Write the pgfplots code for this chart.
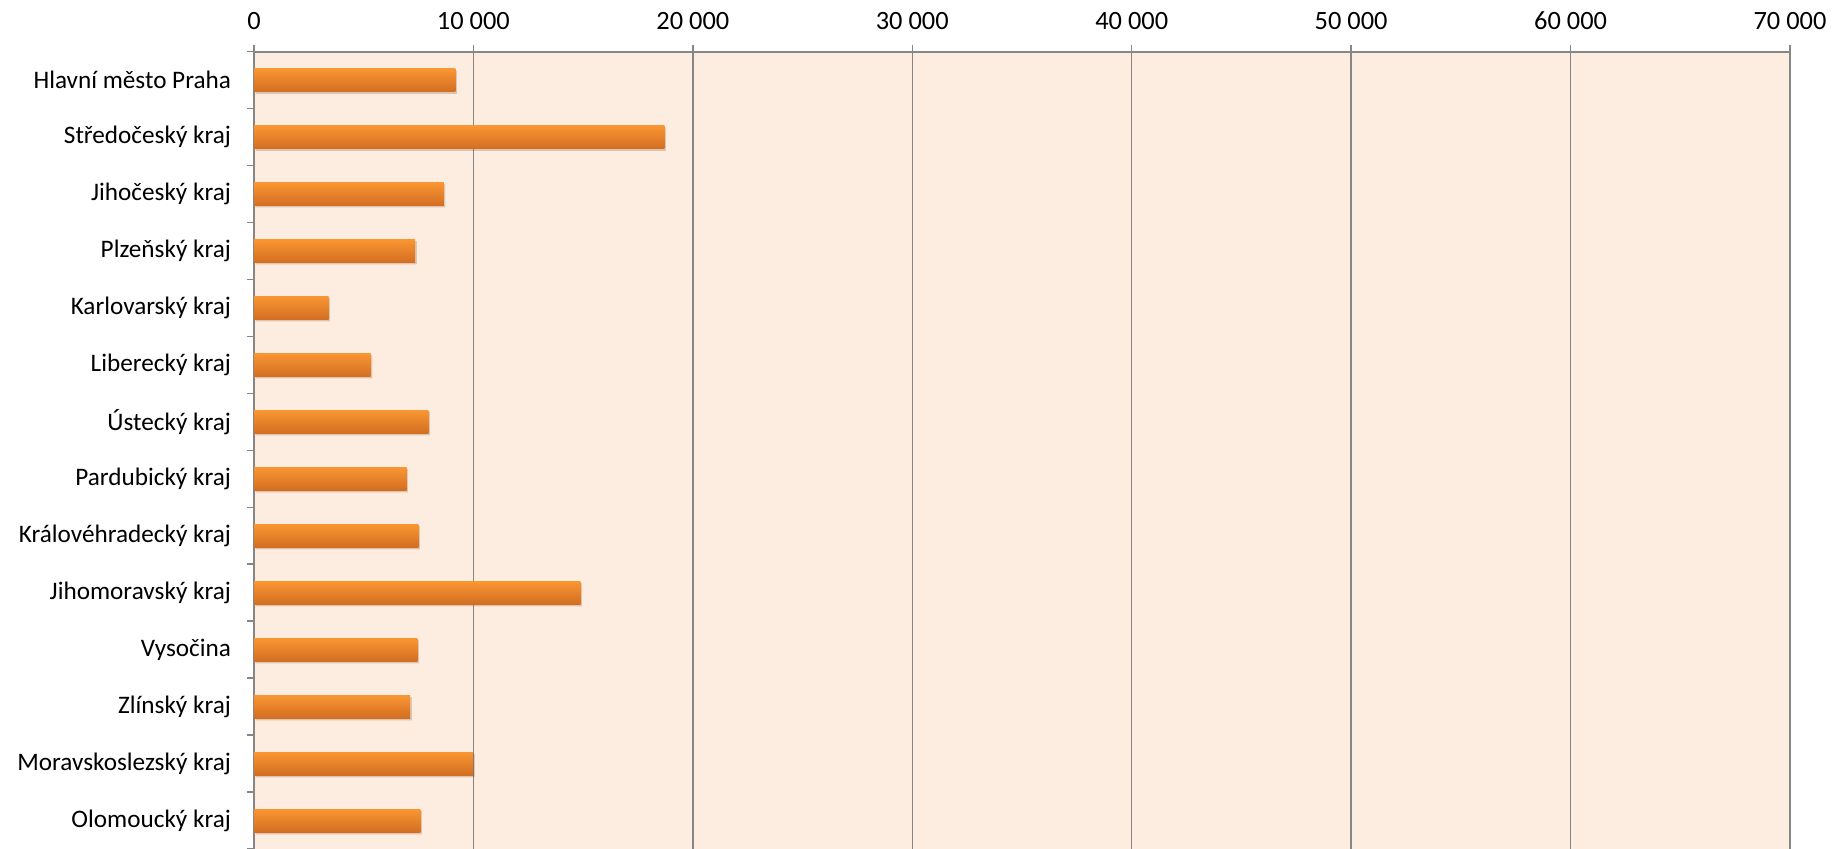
\documentclass[border=0pt]{standalone}
\usepackage{fontspec}
\setmainfont{Carlito}
\usepackage{pgfplots}
\pgfplotsset{compat=1.18}
\usepackage{pgfplotstable}
\definecolor{bg}{RGB}{253,237,225}
\definecolor{gridc}{RGB}{134,134,134}
\definecolor{bartop}{RGB}{250,150,50}
\definecolor{barbot}{RGB}{210,110,34}

\pgfplotstableread{
y val
0 9180
1 18700
2 8650
3 7340
4 3400
5 5320
6 7950
7 6950
8 7490
9 14870
10 7440
11 7120
12 9980
13 7580
}\data

\begin{document}
\begin{tikzpicture}
\begin{axis}[
  at={(127pt,0pt)}, anchor=south west,
  width=768pt, height=398.7pt, scale only axis,
  xmin=0, xmax=70000, ymin=-0.5, ymax=13.5, y dir=reverse,
  axis x line*=top, axis y line*=left,
  axis line style={-, gridc, line width=1pt},
  axis background/.style={fill=bg},
  xtick={0,10000,20000,30000,40000,50000,60000,70000},
  xticklabels={0,10 000,20 000,30 000,40 000,50 000,60 000,70 000},
  ticklabel style={font=\fontsize{12.6}{15}\selectfont, text=black},
  xticklabel style={yshift=4pt, font=\fontsize{13.2}{15}\selectfont},
  xmajorgrids, grid style={gridc, line width=0.75pt},
  tick align=outside, major tick length=3.5pt,
  tick style={gridc, line width=0.75pt},
  ytick={-0.5,0.5,...,13.5}, yticklabels={},
  extra y ticks={0,1,...,13},
  extra y tick labels={Hlavní město Praha,Středočeský kraj,Jihočeský kraj,Plzeňský kraj,Karlovarský kraj,Liberecký kraj,Ústecký kraj,Pardubický kraj,Královéhradecký kraj,Jihomoravský kraj,Vysočina,Zlínský kraj,Moravskoslezský kraj,Olomoucký kraj},
  extra y tick style={tick style={draw=none}, ymajorgrids=false, yticklabel style={xshift=-4.5pt}},
  scaled x ticks=false,
  clip=false,
]
\pgfplotsinvokeforeach{0,...,13}{
\addplot[xbar, bar width=11.5pt, bar shift=0pt, draw=none, top color=bartop, bottom color=barbot,
  preaction={fill=black, opacity=0.12, transform canvas={xshift=0.8pt,yshift=-1pt}}]
  table[x=val,y=y, restrict expr to domain={\coordindex}{#1:#1}]{\data};
}
\end{axis}
\pgfresetboundingbox
\path[use as bounding box] (0,0) rectangle (919pt,424.5pt);
\end{tikzpicture}
\end{document}
